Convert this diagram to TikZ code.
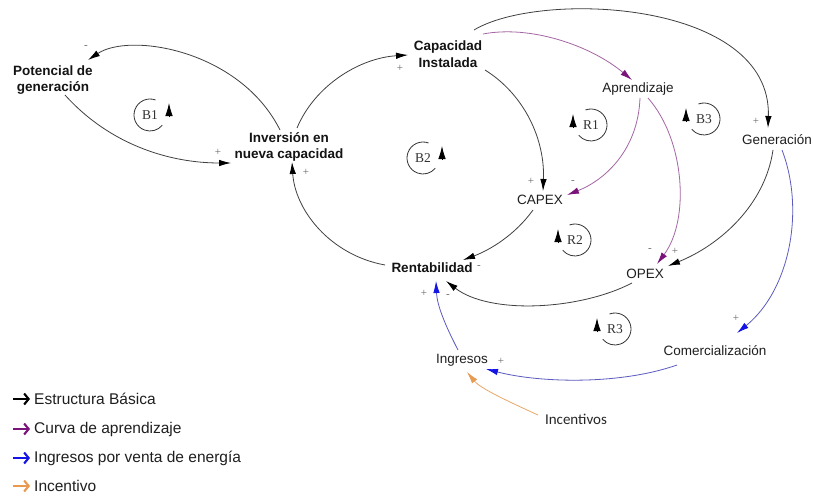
\documentclass[tikz,border=0pt]{standalone}
\usepackage{fontspec}
\setmainfont{Liberation Sans}
\newfontfamily\serifloop{Liberation Serif}
\newfontfamily\incfont{Carlito}
\usetikzlibrary{arrows.meta}
\definecolor{purpline}{HTML}{A466A4}
\definecolor{purphead}{HTML}{7A137A}
\definecolor{blueline}{HTML}{5C5CC0}
\definecolor{bluehead}{HTML}{1414E6}
\definecolor{orangeline}{HTML}{E8A868}
\definecolor{orangehead}{HTML}{E89A50}
\definecolor{blackline}{HTML}{404040}
\tikzset{
  var/.style={inner sep=1pt, align=center, font=\fontsize{13.5}{16}\selectfont, text=black!88},
  bvar/.style={inner sep=1pt, align=center, font=\fontsize{13.5}{16.5}\selectfont\bfseries, text=black!92},
  incvar/.style={inner sep=1pt, font=\incfont\fontsize{15}{16}\selectfont, text=black!85},
  sgn/.style={inner sep=0pt, font=\serifloop\fontsize{11}{11}\selectfont, text=black!60},
  loopl/.style={inner sep=0pt, font=\serifloop\fontsize{13.5}{14}\selectfont, text=black!80},
  looparc/.style={draw=black!80, line width=0.8pt},
  looptip/.style={-{Latex[length=13pt,width=7.5pt]}, line width=0.8pt, draw=black},
  link/.style={line width=0.8pt, draw=blackline, -{Latex[length=12pt,width=6.5pt,color=black]}},
  plink/.style={line width=0.8pt, draw=purpline, -{Latex[length=12pt,width=6.5pt,color=purphead]}},
  blink/.style={line width=0.8pt, draw=blueline, -{Latex[length=12pt,width=6.5pt,color=bluehead]}},
  olink/.style={line width=0.8pt, draw=orangeline, -{Latex[length=12pt,width=6.5pt,color=orangehead]}},
  legarrow/.style={line width=2.1pt, -{Straight Barb[length=4.5pt,width=11pt,line width=2.1pt]}},
  legtext/.style={font=\fontsize{15.5}{16}\selectfont, inner sep=0pt, anchor=west, text=black!88},
}
\begin{document}
\begin{tikzpicture}[x=1pt,y=-1pt]
\useasboundingbox (0,0) rectangle (813,495);
\fill[white] (0,0) rectangle (813,495);

% variables
\node[bvar] (pot) at (53,80) {Potencial de\\generación};
\node[bvar] (inv) at (289,147) {Inversión en\\nueva capacidad};
\node[bvar] (cap) at (448,54) {Capacidad\\Instalada};
\node[var] (apr) at (638,89) {Aprendizaje};
\node[var] (gen) at (777,140) {Generación};
\node[var] (capex) at (540,200) {CAPEX};
\node[var] (opex) at (645,274) {OPEX};
\node[bvar] (rent) at (432,268) {Rentabilidad};
\node[var] (com) at (715,351) {Comercialización};
\node[var] (ing) at (462,360) {Ingresos};
\node[incvar] (inc) at (576,419) {Incentivos};

% connectors
\draw[link] ([shift={(-9,-17)}]inv.center) .. controls (240,50) and (130,32) .. ([shift={(35,-20)}]pot.center);
\draw[link] ([shift={(12,15)}]pot.center) .. controls (110,145) and (170,163) .. ([shift={(-58,16)}]inv.center);
\draw[link] ([shift={(8,-19)}]inv.center) .. controls (315,85) and (360,58) .. ([shift={(-40,1)}]cap.center);
\draw[plink] ([shift={(35,-20)}]cap.center) .. controls (530,25) and (590,45) .. ([shift={(-6,-9)}]apr.center);
\draw[link] ([shift={(26,-24)}]cap.center) .. controls (540,-10) and (772,0) .. ([shift={(-9,-12)}]gen.center);
\draw[link] ([shift={(37,16)}]cap.center) .. controls (525,95) and (545,140) .. ([shift={(3,-9)}]capex.center);
\draw[plink] ([shift={(2,9)}]apr.center) .. controls (638,150) and (605,180) .. ([shift={(27,-5)}]capex.center);
\draw[plink] ([shift={(10,9)}]apr.center) .. controls (685,140) and (690,220) .. ([shift={(12,-10)}]opex.center);
\draw[link] ([shift={(-4,10)}]gen.center) .. controls (765,205) and (720,245) .. ([shift={(23,-8)}]opex.center);
\draw[blink] ([shift={(5,10)}]gen.center) .. controls (805,210) and (790,290) .. ([shift={(22,-18)}]com.center);
\draw[link] ([shift={(-7,10)}]capex.center) .. controls (515,235) and (490,250) .. ([shift={(31,-8)}]rent.center);
\draw[link] ([shift={(-13,9)}]opex.center) .. controls (580,310) and (490,315) .. ([shift={(14,13)}]rent.center);
\draw[link] ([shift={(-47,-3)}]rent.center) .. controls (330,255) and (295,210) .. ([shift={(3,15)}]inv.center);
\draw[blink] ([shift={(-4,-10)}]ing.center) .. controls (445,325) and (437,305) .. ([shift={(4,13)}]rent.center);
\draw[blink] ([shift={(-38,14)}]com.center) .. controls (620,385) and (540,383) .. ([shift={(24,9)}]ing.center);
\draw[olink] ([shift={(-38,-4)}]inc.center) .. controls (505,400) and (480,388) .. ([shift={(5,12)}]ing.center);

% polarity signs
\node[sgn] (s1) at (86,47) {-};
\node[sgn] (s2) at (218,152) {+};
\node[sgn] (s3) at (400,68) {+};
\node[sgn] (s5) at (756,121) {+};
\node[sgn] (s6) at (531,181) {+};
\node[sgn] (s7) at (573,182) {-};
\node[sgn] (s8) at (650,250) {-};
\node[sgn] (s9) at (675,251) {+};
\node[sgn] (s10) at (736,318) {+};
\node[sgn] (s11) at (479,267) {-};
\node[sgn] (s12) at (448,296) {-};
\node[sgn] (s13) at (306,172) {+};
\node[sgn] (s14) at (424,293) {+};
\node[sgn] (s15) at (501,361) {+};

% loop markers (B type: tip right)
\node[loopl] (b1) at (150,115) {B1};
\draw[looparc] ([shift={(-70:16)}]b1.center) arc[start angle=-70, end angle=-320, radius=16];
\draw[looptip] ([shift={(19,2)}]b1.center) -- ([shift={(19,-12)}]b1.center);
\node[loopl] (b2) at (423,158) {B2};
\draw[looparc] ([shift={(-70:16)}]b2.center) arc[start angle=-70, end angle=-320, radius=16];
\draw[looptip] ([shift={(19,2)}]b2.center) -- ([shift={(19,-12)}]b2.center);
% R type: tip left
\node[loopl] (r1) at (591,125) {R1};
\draw[looparc] ([shift={(-110:16)}]r1.center) arc[start angle=-110, end angle=140, radius=16];
\draw[looptip] ([shift={(-18,3)}]r1.center) -- ([shift={(-18,-11)}]r1.center);
\node[loopl] (b3) at (704,119) {B3};
\draw[looparc] ([shift={(-110:16)}]b3.center) arc[start angle=-110, end angle=140, radius=16];
\draw[looptip] ([shift={(-18,3)}]b3.center) -- ([shift={(-18,-11)}]b3.center);
\node[loopl] (r2) at (575,240) {R2};
\draw[looparc] ([shift={(-110:16)}]r2.center) arc[start angle=-110, end angle=140, radius=16];
\draw[looptip] ([shift={(-17,3)}]r2.center) -- ([shift={(-17,-11)}]r2.center);
\node[loopl] (r3) at (615,329) {R3};
\draw[looparc] ([shift={(-110:16)}]r3.center) arc[start angle=-110, end angle=140, radius=16];
\draw[looptip] ([shift={(-18,3)}]r3.center) -- ([shift={(-18,-11)}]r3.center);

% legend
\coordinate (la1s) at (13,399); \coordinate (la1e) at (30,399);
\draw[legarrow, draw=black] (la1s) -- (la1e);
\node[legtext] (lt1) at (34,399) {Estructura Básica};
\coordinate (la2s) at (13,429); \coordinate (la2e) at (30,429);
\draw[legarrow, draw=purphead] (la2s) -- (la2e);
\node[legtext] (lt2) at (34,429) {Curva de aprendizaje};
\coordinate (la3s) at (13,458); \coordinate (la3e) at (30,458);
\draw[legarrow, draw=bluehead] (la3s) -- (la3e);
\node[legtext] (lt3) at (34,458) {Ingresos por venta de energía};
\coordinate (la4s) at (13,486); \coordinate (la4e) at (30,486);
\draw[legarrow, draw=orangehead] (la4s) -- (la4e);
\node[legtext] (lt4) at (34,486) {Incentivo};
\end{tikzpicture}
\end{document}
